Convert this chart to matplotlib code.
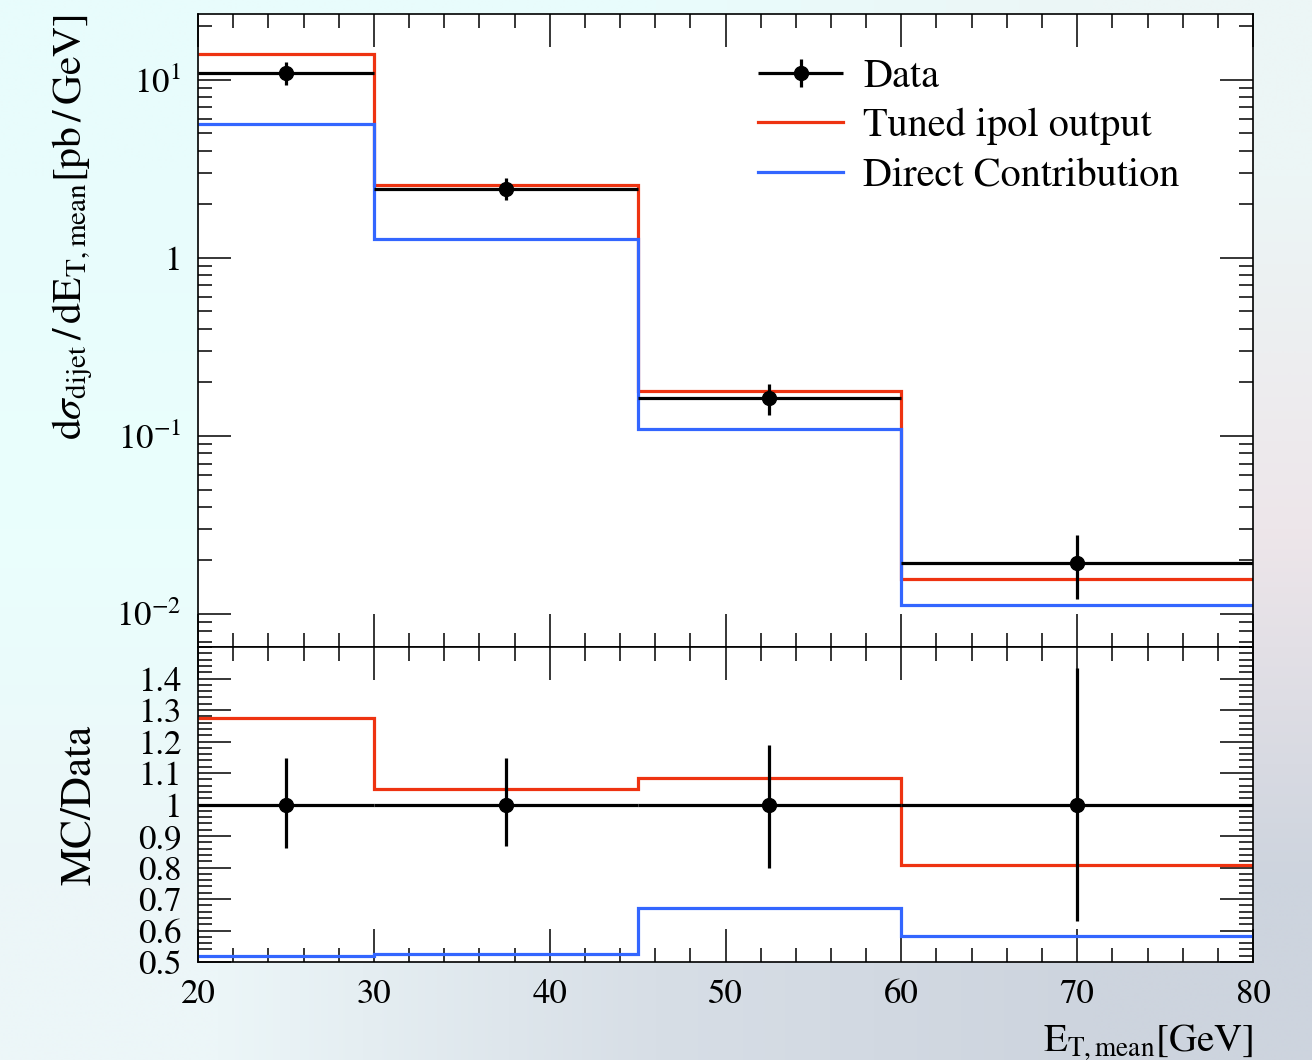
import matplotlib
matplotlib.use("Agg")
import matplotlib.pyplot as plt
import matplotlib.ticker as mticker
from matplotlib.legend_handler import HandlerErrorbar
import numpy as np

plt.rcParams['font.family'] = ['STIXGeneral', 'DejaVu Serif']
plt.rcParams['mathtext.fontset'] = 'stix'

# binning and measured cross sections [pb/GeV]
edges = [20, 30, 45, 60, 80]
data = [10.9, 2.44, 0.164, 0.0194]
data_err_up = [1.6, 0.36, 0.031, 0.0084]
data_err_dn = [1.5, 0.32, 0.033, 0.0072]
tuned = [13.9, 2.56, 0.178, 0.0157]
direct = [5.66, 1.28, 0.110, 0.0113]

red = '#EE3311'
blue = '#3366FF'

edges_a = np.array(edges, dtype=float)
centers = 0.5 * (edges_a[1:] + edges_a[:-1])
halfw = 0.5 * (edges_a[1:] - edges_a[:-1])
data_a = np.array(data)
ratio_tuned = np.array(tuned) / data_a
ratio_direct = np.array(direct) / data_a
ratio_up = np.array(data_err_up) / data_a
ratio_dn = np.array(data_err_dn) / data_a

fig = plt.figure(figsize=(13.12, 10.6), dpi=100)

# soft background wash
bg = fig.add_axes([0, 0, 1, 1], zorder=-10)
grad = np.array([
    [[232, 252, 252], [233, 252, 252], [236, 246, 246]],
    [[234, 255, 253], [236, 242, 244], [238, 230, 234]],
    [[236, 246, 248], [215, 222, 230], [205, 212, 222]],
]) / 255.0
bg.imshow(grad, extent=[0, 1, 0, 1], aspect='auto', interpolation='bilinear')
bg.axis('off')

L, R = 198 / 1312, 1253 / 1312
y_mid = 1 - 647 / 1060
y_top = 1 - 14 / 1060
y_bot = 1 - 962 / 1060
ax = fig.add_axes([L, y_mid, R - L, y_top - y_mid])
rax = fig.add_axes([L, y_bot, R - L, y_mid - y_bot])

lw = 2.3
h_tuned = ax.stairs(tuned, edges, color=red, lw=lw, baseline=None, label='Tuned ipol output', zorder=2)
h_direct = ax.stairs(direct, edges, color=blue, lw=lw, baseline=None, label='Direct Contribution', zorder=2)
h_data = ax.errorbar(centers, data, xerr=halfw, yerr=[data_err_dn, data_err_up], fmt='o',
                     color='black', ms=10, elinewidth=2.3, capsize=0, label='Data', zorder=3)

ax.set_yscale('log')
ax.set_xlim(20, 80)
ax.set_ylim(0.00653, 23.4)
ax.yaxis.set_major_locator(mticker.FixedLocator([0.01, 0.1, 1, 10]))
ax.yaxis.set_major_formatter(mticker.FixedFormatter(
    [r'$10^{-2}$', r'$10^{-1}$', '1', r'$10^{1}$']))
ax.yaxis.set_minor_locator(mticker.LogLocator(base=10, subs=np.arange(2, 10), numticks=20))
ax.yaxis.set_minor_formatter(mticker.NullFormatter())
ax.tick_params(axis='x', labelbottom=False)

rax.stairs(ratio_tuned, edges, color=red, lw=lw, baseline=None, zorder=2)
rax.stairs(ratio_direct, edges, color=blue, lw=lw, baseline=None, zorder=2)
rax.errorbar(centers, np.ones(len(centers)), xerr=halfw, yerr=[ratio_dn, ratio_up], fmt='o',
             color='black', ms=10, elinewidth=2.3, capsize=0, zorder=3)
rax.set_xlim(20, 80)
rax.set_ylim(0.5, 1.5)
rax.yaxis.set_major_locator(mticker.FixedLocator(np.round(np.arange(0.5, 1.45, 0.1), 2)))
rax.yaxis.set_major_formatter(mticker.FuncFormatter(lambda v, p: '%g' % v))
rax.yaxis.set_minor_locator(mticker.MultipleLocator(0.02))

for a in (ax, rax):
    a.xaxis.set_major_locator(mticker.MultipleLocator(10))
    a.xaxis.set_minor_locator(mticker.MultipleLocator(2))
    a.tick_params(which='both', direction='in', top=True, right=True, width=1.1)
    a.tick_params(which='major', length=24, labelsize=25, pad=12)
    a.tick_params(which='minor', length=10)
    for s in a.spines.values():
        s.set_linewidth(1.2)

ax.set_ylabel(r'$\mathrm{d}\sigma_{\mathrm{dijet}}\,/\,\mathrm{dE}_{\mathrm{T,mean}}[\mathrm{pb}\,/\,\mathrm{GeV}]$',
              fontsize=30, loc='top')
ax.yaxis.set_label_coords(-0.098, 1.0)
rax.set_ylabel('MC/Data', fontsize=31)
rax.yaxis.set_label_coords(-0.094, 0.5)
rax.set_xlabel(r'$\mathrm{E}_{\mathrm{T,mean}}[\mathrm{GeV}]$', fontsize=28, loc='right', labelpad=8)

fs_leg = 29
hl = 85 / (fs_leg * 100 / 72)
ax.legend([h_data, h_tuned, h_direct], ['Data', 'Tuned ipol output', 'Direct Contribution'],
          loc='upper left', bbox_to_anchor=(0.531, 0.93), frameon=False, fontsize=fs_leg,
          borderpad=0, borderaxespad=0, handlelength=hl, handletextpad=0.5,
          labelspacing=0.3,
          handler_map={type(h_data): HandlerErrorbar(xerr_size=hl / 2, yerr_size=0.35)})

fig.savefig('out.png', dpi=100)
